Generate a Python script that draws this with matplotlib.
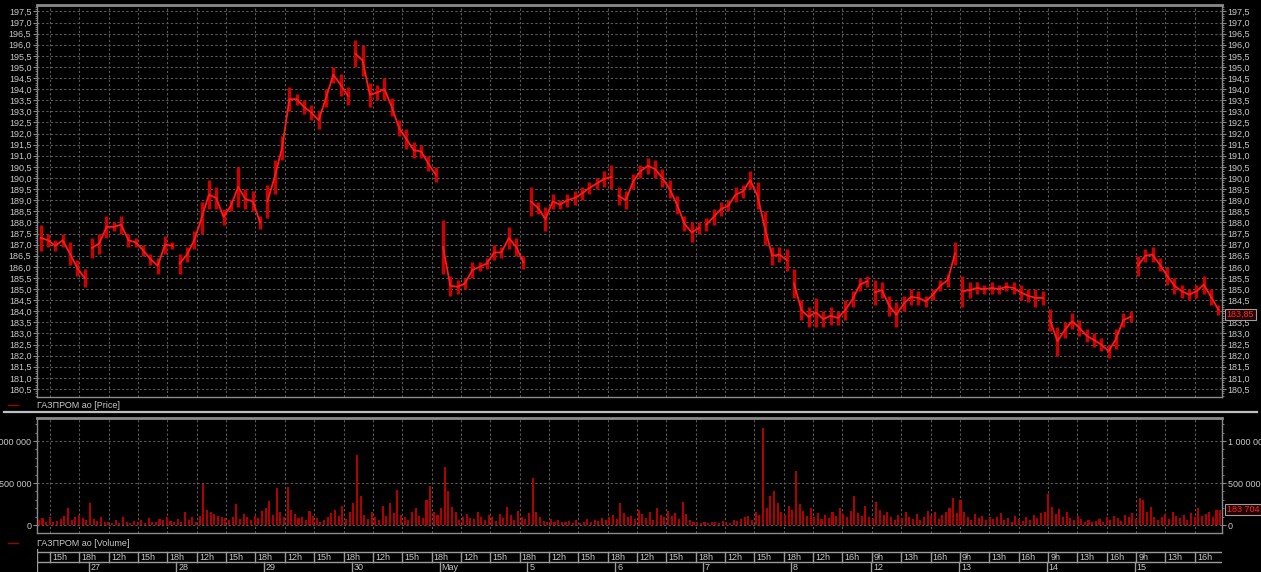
import numpy as np
import matplotlib.pyplot as plt
from matplotlib.lines import Line2D
from matplotlib.ticker import MultipleLocator, FixedLocator, FuncFormatter
import matplotlib.transforms as mtransforms

plt.rcParams['font.family'] = ['Liberation Sans', 'DejaVu Sans']

# price bars (low / high), one per bar
price_lo = [
    186.7, 186.9, 186.7, 186.9, 186.1, 185.6, 185.1, 186.4, 186.6, 187.3,
    187.6, 187.5, 186.9, 186.9, 186.5, 186.1, 185.7, 186.6, 186.8, 185.7,
    186.2, 186.8, 187.5, 188.6, 188.6, 187.9, 188.5, 188.7, 188.6, 188.5,
    187.7, 188.2, 189.3, 190.8, 193.0, 193.3, 192.9, 192.6, 192.2, 193.2,
    194.3, 193.7, 193.3, 195.0, 194.6, 193.2, 193.5, 193.5, 192.8, 191.9,
    191.3, 190.9, 190.9, 190.3, 189.8, 185.7, 184.7, 184.8, 185.0, 185.5,
    185.8, 185.9, 186.3, 186.4, 186.8, 186.5, 185.9, 188.3, 188.4, 187.6,
    188.6, 188.6, 188.7, 188.8, 189.0, 189.3, 189.5, 189.6, 189.5, 188.8,
    188.6, 189.5, 190.0, 190.2, 190.0, 189.6, 189.1, 188.4, 187.6, 187.1,
    187.5, 187.6, 187.9, 188.3, 188.5, 188.9, 189.1, 189.5, 188.6, 187.0,
    186.1, 186.2, 185.8, 184.6, 183.6, 183.3, 183.3, 183.3, 183.4, 183.4,
    183.6, 184.2, 184.9, 185.1, 184.3, 184.6, 183.8, 183.3, 184.0, 184.3,
    184.3, 184.2, 184.5, 184.9, 185.1, 186.1, 184.2, 184.6, 184.8, 184.8,
    184.8, 184.8, 184.9, 184.8, 184.5, 184.4, 184.2, 184.3, 183.1, 182.0,
    182.8, 183.2, 182.9, 182.6, 182.4, 182.2, 181.9, 182.3, 183.3, 183.5,
    185.6, 186.2, 186.2, 185.8, 185.2, 184.8, 184.6, 184.5, 184.6, 184.8,
    184.3, 183.85,
]
price_hi = [
    187.9, 187.5, 187.2, 187.5, 187.1, 186.3, 185.9, 187.3, 187.5, 188.3,
    188.0, 188.3, 187.5, 187.3, 187.0, 186.6, 186.4, 187.4, 187.1, 186.6,
    186.9, 187.6, 188.9, 189.9, 189.6, 188.6, 189.0, 190.5, 189.5, 189.4,
    188.3, 189.7, 190.8, 191.9, 194.1, 193.8, 193.5, 193.3, 193.0, 194.0,
    195.0, 194.7, 194.1, 196.2, 196.0, 194.3, 194.2, 194.5, 193.6, 192.6,
    192.2, 191.6, 191.5, 191.0, 190.5, 188.1, 185.6, 185.4, 185.5, 186.2,
    186.2, 186.4, 187.0, 186.9, 187.8, 187.3, 186.5, 189.6, 188.9, 188.7,
    189.3, 189.0, 189.3, 189.4, 189.6, 189.8, 190.0, 190.3, 190.6, 189.6,
    189.4, 190.2, 190.6, 190.9, 190.8, 190.4, 189.9, 189.2, 188.3, 188.0,
    188.0, 188.2, 188.6, 188.9, 189.0, 189.6, 189.7, 190.3, 189.8, 188.5,
    186.9, 186.9, 186.8, 185.9, 184.5, 184.2, 184.6, 184.0, 184.2, 184.0,
    184.5, 184.9, 185.5, 185.6, 185.4, 185.3, 184.7, 184.4, 184.7, 185.0,
    184.9, 184.7, 185.0, 185.4, 185.7, 187.1, 185.6, 185.3, 185.3, 185.2,
    185.3, 185.2, 185.3, 185.3, 185.2, 185.0, 185.0, 184.9, 184.1, 183.3,
    183.5, 183.9, 183.6, 183.2, 183.0, 182.8, 182.5, 183.2, 183.9, 184.0,
    186.5, 186.8, 186.9, 186.4, 186.0, 185.5, 185.2, 185.0, 185.2, 185.6,
    185.0, 184.3,
]

# volume in thousands, two bars per price bar
volume_k = [
    60, 80, 40, 90, 30, 50, 70, 110, 200, 60, 90, 120, 80, 60, 260, 70, 50, 90,
    40, 30, 20, 60, 25, 90, 35, 20, 45, 30, 60, 25, 80, 40, 30, 70, 55, 95,
    50, 30, 70, 40, 150, 60, 90, 35, 110, 490, 180, 150, 130, 110, 90, 80, 60, 100,
    250, 70, 130, 90, 60, 110, 80, 170, 200, 290, 120, 440, 150, 90, 450, 180, 130, 80,
    90, 60, 170, 110, 80, 40, 60, 90, 140, 180, 110, 230, 70, 150, 260, 830, 345, 120,
    70, 160, 100, 60, 230, 110, 260, 140, 415, 120, 90, 60, 150, 200, 110, 80, 300, 465,
    160, 120, 200, 690, 400, 210, 150, 60, 90, 130, 80, 70, 160, 100, 60, 120, 90, 50,
    130, 80, 210, 120, 60, 170, 100, 70, 140, 560, 160, 90, 50, 40, 70, 30, 60, 40,
    30, 50, 25, 60, 20, 40, 70, 30, 55, 45, 80, 60, 100, 120, 70, 260, 140, 90,
    110, 70, 180, 130, 80, 150, 60, 200, 120, 90, 170, 110, 140, 70, 270, 130, 60, 40,
    30, 20, 35, 25, 40, 30, 20, 50, 30, 25, 60, 45, 70, 90, 110, 60, 150, 120,
    1155, 200, 340, 410, 260, 150, 120, 230, 180, 640, 250, 170, 110, 200, 90, 140, 70, 120,
    80, 150, 110, 200, 130, 90, 170, 340, 140, 110, 230, 90, 70, 270, 180, 120, 150, 90,
    60, 120, 80, 150, 100, 70, 130, 60, 90, 170, 110, 150, 70, 120, 160, 200, 320, 140,
    300, 150, 90, 60, 130, 80, 110, 60, 100, 70, 90, 140, 60, 80, 40, 110, 70, 50,
    90, 60, 120, 80, 140, 160, 370, 210, 130, 190, 100, 150, 80, 60, 110, 70, 40, 60,
    30, 50, 70, 40, 90, 60, 110, 80, 50, 120, 90, 140, 70, 320, 300, 150, 210, 100,
    60, 90, 130, 70, 150, 110, 80, 120, 60, 140, 90, 200, 110, 130, 160, 90, 180, 183.704,
]

hour_labels = (["15h", "18h", "12h"] * 8 + ["15h", "18h", "12h", "16h"]
               + ["9h", "13h", "16h"] * 4)
date_labels = ["27", "28", "29", "30", "May", "5", "6", "7", "8", "12", "13", "14", "15"]
date_bars = [7, 19, 31, 43, 55, 67, 79, 91, 103, 114, 126, 138, 150]
last_price = 183.85
last_volume = 183704

W, H = 1261, 572
BG = 'black'
GRID = '#5a5a5a'
TXT = '#c8c8c8'
SPINE = '#8a8a8a'
FS = 6.5


def fmt_price(v, pos):
    return f"{v:.1f}".replace('.', ',')


def style_axes(ax):
    ax.set_facecolor(BG)
    for s in ax.spines.values():
        s.set_color(SPINE)
        s.set_linewidth(1)
    ax.spines['top'].set_linewidth(2)
    ax.tick_params(axis='y', which='both', left=True, right=True,
                   labelleft=True, labelright=True, colors=SPINE,
                   labelcolor=TXT, labelsize=FS, pad=1)
    ax.tick_params(axis='y', which='major', length=3)
    ax.tick_params(axis='y', which='minor', length=1.5)
    ax.tick_params(axis='x', which='both', length=0, labelbottom=False)


def main():
    fig = plt.figure(figsize=(W / 100, H / 100), dpi=100, facecolor=BG)
    left, right = 37, 1222
    ax_p = fig.add_axes([left / W, 1 - 397 / H, (right - left) / W, (397 - 5) / H])
    ax_v = fig.add_axes([left / W, 1 - 533 / H, (right - left) / W, (533 - 418) / H],
                        sharex=ax_p)
    ax_t = fig.add_axes([left / W, 0, (right - left) / W, (572 - 549) / H], sharex=ax_p)

    lo = np.array(price_lo)
    hi = np.array(price_hi)
    n = len(lo)
    x = np.arange(n)

    # price candles
    ax_p.vlines(x, lo, hi, color='#d00000', lw=2.4, zorder=3)
    mid = (lo + hi) / 2
    starts = [0] + date_bars + [n]
    for a, b in zip(starts[:-1], starts[1:]):
        ax_p.plot(x[a:b], mid[a:b], color='#ff1a1a', lw=1.3, zorder=4)

    ax_p.set_xlim(-0.5, n - 0.5)
    ax_p.set_ylim(180.14, 197.79)
    ax_p.yaxis.set_major_locator(MultipleLocator(0.5))
    ax_p.yaxis.set_minor_locator(MultipleLocator(0.1))
    ax_p.yaxis.set_major_formatter(FuncFormatter(fmt_price))
    style_axes(ax_p)

    # cell boundaries of the time scale
    cell_edges = [1.28 + 4.0125 * k for k in range(len(hour_labels))]
    ax_p.xaxis.set_major_locator(FixedLocator(cell_edges))
    for ax in (ax_p, ax_v):
        ax.grid(True, which='major', color=GRID, ls=(0, (2, 2)), lw=0.8)
        ax.set_axisbelow(True)

    # volume
    vol = np.array(volume_k) * 1000
    vx = np.arange(len(vol)) / 2 - 0.25
    ax_v.bar(vx, vol, width=0.28, color='#b00000', zorder=3)
    ax_v.set_ylim(-95000, 1274000)
    ax_v.yaxis.set_major_locator(FixedLocator([0, 500000, 1000000]))
    ax_v.yaxis.set_minor_locator(MultipleLocator(100000))
    ax_v.set_yticklabels(['0', '500 000', '1 000 000'])
    style_axes(ax_v)

    # last value boxes
    tr_p = mtransforms.blended_transform_factory(ax_p.transAxes, ax_p.transData)
    ax_p.text(1.004, last_price, f"{last_price:.2f}".replace('.', ','), transform=tr_p,
              ha='left', va='center', color='#ff2a2a', fontsize=FS, zorder=10,
              bbox=dict(boxstyle='square,pad=0.15', fc='#200000', ec='#a0a0a0', lw=0.8))
    tr_v = mtransforms.blended_transform_factory(ax_v.transAxes, ax_v.transData)
    ax_v.text(1.004, last_volume, f"{last_volume:,}".replace(',', ' '), transform=tr_v,
              ha='left', va='center', color='#ff2a2a', fontsize=FS, zorder=10,
              bbox=dict(boxstyle='square,pad=0.15', fc='#200000', ec='#a0a0a0', lw=0.8))

    # time scale
    ax_t.set_facecolor(BG)
    for s in ax_t.spines.values():
        s.set_visible(False)
    ax_t.tick_params(axis='both', length=0, labelbottom=False, labelleft=False)
    ax_t.set_ylim(23, 0)
    ax_t.grid(False)
    lc = '#9a9a9a'
    ax_t.axhline(3, color=lc, lw=1)
    ax_t.axhline(13, color=lc, lw=1)
    ax_t.axvline(-0.5, color=lc, lw=1)
    for e, lab in zip(cell_edges, hour_labels):
        ax_t.plot([e, e], [3, 13], color=lc, lw=1)
        ax_t.text(e + 0.3, 8.2, lab, color=TXT, fontsize=FS, ha='left', va='center')
    for d, lab in zip(date_bars, date_labels):
        ax_t.plot([d - 0.45, d - 0.45], [13, 23], color=lc, lw=1)
        ax_t.text(d - 0.2, 18.5, lab, color=TXT, fontsize=FS, ha='left', va='center')

    # legends and separator
    fig.add_artist(Line2D([8 / W, 18 / W], [1 - 405 / H] * 2, color='#a00000', lw=1))
    fig.text(37 / W, 1 - 405 / H, "ГАЗПРОМ ао [Price]", color=TXT, fontsize=FS,
             ha='left', va='center')
    fig.add_artist(Line2D([4 / W, 1257 / W], [1 - 412 / H] * 2, color='#c0c0c0', lw=1.6))
    fig.add_artist(Line2D([8 / W, 18 / W], [1 - 543 / H] * 2, color='#a00000', lw=1))
    fig.text(37 / W, 1 - 543 / H, "ГАЗПРОМ ао [Volume]", color=TXT, fontsize=FS,
             ha='left', va='center')

    # the last-price box hides the right-hand label under it
    fig.canvas.draw()
    for tick in ax_p.yaxis.get_major_ticks():
        if abs(tick.get_loc() - 184.0) < 1e-6:
            tick.label2.set_visible(False)

    fig.savefig("out.png", dpi=100, facecolor=BG)


if __name__ == "__main__":
    main()
